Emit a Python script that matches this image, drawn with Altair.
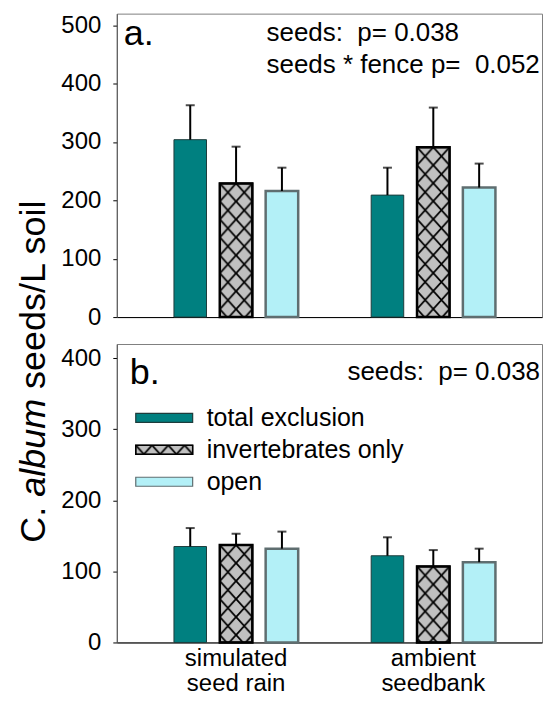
import altair as alt
import pandas as pd
from urllib.parse import quote

# ---------------- data ----------------
groups = ["simulated\nseed rain", "ambient\nseedbank"]
series = ["total exclusion", "invertebrates only", "open"]

a_means = [304, 229, 216, 209, 291, 222]
a_errs = [59, 63, 40, 47, 68, 41]
b_means = [135, 137, 132, 122, 107, 113]
b_errs = [26, 16, 24, 26, 23, 19]

a_ticks = [0, 100, 200, 300, 400, 500]
b_ticks = [0, 100, 200, 300, 400]

a_notes = ["seeds: \u00a0p= 0.038", "seeds * fence p= \u00a00.052"]
b_notes = ["seeds: \u00a0p= 0.038"]
panel_tags = ["a.", "b."]

# ---------------- styles ----------------
FONT = "Liberation Sans"
fills = ["#008080", "#C0C0C0", "#B3F0F7"]
strokes = ["#1e3c3c", "#000000", "#5f6e70"]
stroke_widths = [1, 2.5, 1]

HW, HH = 16.3, 18
hatch_svg = (
    "<svg xmlns='http://www.w3.org/2000/svg' width='100%' height='100%'>"
    "<defs><pattern id='h' x='0' y='0' width='{w}' height='{h}' patternUnits='userSpaceOnUse'>"
    "<path d='M{x0},{y0}L{x1},{y1}M{x0},{y1}L{x1},{y0}' stroke='black' stroke-width='1.8' fill='none'/>"
    "</pattern></defs>"
    "<rect x='0' y='0' width='100%' height='100%' fill='url(#h)'/></svg>"
).format(w=HW, h=HH, x0=-HW / 2, y0=-HH / 2, x1=HW * 1.5, y1=HH * 1.5)
HATCH_URL = "data:image/svg+xml;charset=utf-8," + quote(hatch_svg, safe="")

W = 426
HA, HB = 304, 299


def frame(means, errs):
    rows = []
    i = 0
    for g in groups:
        for s in series:
            rows.append({"group": g, "series": s, "mean": means[i], "upper": means[i] + errs[i]})
            i += 1
    return pd.DataFrame(rows)


def text_layer(text, x, y, size, align="left", style="normal", angle=0):
    return alt.Chart(pd.DataFrame({"t": [text]})).mark_text(
        align=align, baseline="alphabetic", fontSize=size, fontStyle=style,
        angle=angle, font=FONT, color="black"
    ).encode(x=alt.value(x), y=alt.value(y), text="t:N")


def panel(means, errs, ymax, ticks, show_labels):
    df = frame(means, errs)
    if show_labels:
        xaxis = alt.Axis(title=None, ticks=False, labelAngle=0,
                         labelExpr="split(datum.value, '\\n')",
                         labelFontSize=24, labelLineHeight=25, labelPadding=4,
                         labelColor="black", domainColor="black", labelFont=FONT)
    else:
        xaxis = alt.Axis(title=None, ticks=False, labels=False, domainColor="black")
    x = alt.X("group:N", sort=groups, axis=xaxis,
              scale=alt.Scale(domain=groups, paddingInner=0.37, paddingOuter=0.263, align=0.551))
    xo = alt.XOffset("series:N", sort=series,
                     scale=alt.Scale(domain=series, paddingInner=0.29, paddingOuter=0))
    y = alt.Y("mean:Q", title=None,
              scale=alt.Scale(domain=[0, ymax], nice=False, zero=True),
              axis=alt.Axis(values=ticks, grid=False, tickSize=4, tickColor="black",
                            domainColor="#555555", labelFontSize=24, labelPadding=12,
                            labelColor="black", labelFont=FONT, format="d"))
    base = alt.Chart(df)
    bars = base.mark_bar().encode(
        x=x, xOffset=xo, y=y,
        fill=alt.Fill("series:N", scale=alt.Scale(domain=series, range=fills), legend=None),
        stroke=alt.Stroke("series:N", scale=alt.Scale(domain=series, range=strokes), legend=None),
        strokeWidth=alt.StrokeWidth("series:N", scale=alt.Scale(domain=series, range=stroke_widths), legend=None),
    )
    hatched = base.transform_filter(alt.datum.series == series[1])
    hatch = hatched.mark_image(aspect=False).encode(
        x=x, xOffset=xo, y=y, y2=alt.datum(0), url=alt.value(HATCH_URL)
    )
    outline = hatched.mark_bar(fillOpacity=0, stroke="black", strokeWidth=2.5).encode(
        x=x, xOffset=xo, y=y
    )
    err = base.mark_rule(color="black", strokeWidth=2).encode(
        x=x, xOffset=xo, y=y, y2="upper:Q"
    )
    cap = base.mark_tick(color="black", thickness=2, size=9).encode(
        x=x, xOffset=xo, y="upper:Q"
    )
    return [bars, hatch, outline, err, cap]


# ---------------- panel a ----------------
layers_a = panel(a_means, a_errs, 520, a_ticks, False)
layers_a += [
    text_layer(panel_tags[0], 7, 31, 36),
    text_layer(a_notes[0], 150, 27, 26),
    text_layer(a_notes[1], 150, 59, 26),
]
top = alt.layer(*layers_a).properties(width=W, height=HA)

# ---------------- panel b ----------------
layers_b = panel(b_means, b_errs, 420, b_ticks, True)
layers_b += [
    text_layer(panel_tags[1], 13, 40, 36),
    text_layer(b_notes[0], W - 2, 36, 26, align="right"),
]
legend_rows = [74, 106, 138]
for i, s in enumerate(series):
    yc = legend_rows[i]
    one = alt.Chart(pd.DataFrame({"s": [s]}))
    layers_b.append(one.mark_rect(fill=fills[i], stroke=strokes[i] if i != 1 else "black",
                                  strokeWidth=1.2).encode(
        x=alt.value(19), x2=alt.value(76), y=alt.value(yc - 4.5), y2=alt.value(yc + 4.5)))
    if i == 1:
        layers_b.append(one.mark_image(aspect=False).encode(
            x=alt.value(19), x2=alt.value(76), y=alt.value(yc - 4.5), y2=alt.value(yc + 4.5),
            url=alt.value(HATCH_URL)))
        layers_b.append(one.mark_rect(fillOpacity=0, stroke="black", strokeWidth=1.5).encode(
            x=alt.value(19), x2=alt.value(76), y=alt.value(yc - 4.5), y2=alt.value(yc + 4.5)))
    layers_b.append(text_layer(s, 90, yc + 8.5, 25))

# y-axis title (mixed italic), rotated
title_parts = ["C.", "album", "seeds/L soil"]
title_styles = ["normal", "italic", "normal"]
em = 36
y0 = 199
offsets = [0, 1.278 * em, (1.278 + 3.001) * em]
for part, st, off in zip(title_parts, title_styles, offsets):
    layers_b.append(text_layer(part, -72, y0 - off, em, style=st, angle=270))

bottom = alt.layer(*layers_b).properties(width=W, height=HB)

chart = alt.vconcat(top, bottom, spacing=27, bounds="flush").resolve_scale(
    x="independent", y="independent"
).properties(
    padding={"left": 7, "top": 4, "right": 0, "bottom": 0}
).configure(font=FONT).configure_view(stroke="#808080", strokeWidth=1)

chart.save("out.html", embed_options={"renderer": "svg", "actions": False})
